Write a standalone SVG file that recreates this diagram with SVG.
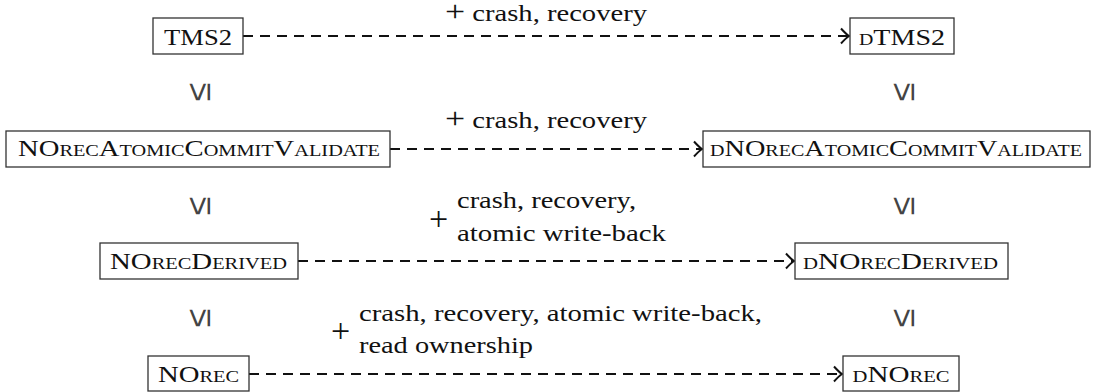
<svg xmlns="http://www.w3.org/2000/svg" width="1096" height="392" viewBox="0 0 1096 392">
<defs>
<style>
.box{fill:#fff;stroke:#333;stroke-width:1.3}
.nt{font-family:"Liberation Serif",serif;font-size:24px;fill:#111;font-variant:small-caps;text-anchor:middle}
.lb{font-family:"Liberation Serif",serif;font-size:24px;fill:#111}
.pl{font-family:"Liberation Serif",serif;font-size:34px;fill:#111}
.cn{fill:none;stroke:#111;stroke-width:2;stroke-dasharray:10 7}
.le{font-family:"Liberation Sans",sans-serif;font-size:34px;fill:#444;text-anchor:middle}
</style>
<marker id="arr" markerWidth="14" markerHeight="20" refX="11" refY="10" orient="auto" markerUnits="userSpaceOnUse">
<path d="M3,2.5 Q8,8 11,10 Q8,12 3,17.5" fill="none" stroke="#111" stroke-width="2"/>
</marker>
</defs>
<rect width="1096" height="392" fill="#fff"/>
<g id="connectors">
<line class="cn" x1="243" y1="36" x2="849" y2="36" marker-end="url(#arr)"/>
<line class="cn" x1="390" y1="149" x2="702" y2="149" marker-end="url(#arr)"/>
<line class="cn" x1="298" y1="261" x2="794" y2="261" marker-end="url(#arr)"/>
<line class="cn" x1="249" y1="374" x2="842" y2="374" marker-end="url(#arr)"/>
</g>
<g id="labels">
<text class="lb" x="445" y="21" textLength="202" lengthAdjust="spacingAndGlyphs"><tspan font-size="30">+</tspan> crash, recovery</text>
<text class="lb" x="445" y="128" textLength="202" lengthAdjust="spacingAndGlyphs"><tspan font-size="30">+</tspan> crash, recovery</text>
<text class="pl" x="429" y="230">+</text>
<text class="lb" x="457" y="208" textLength="179" lengthAdjust="spacingAndGlyphs">crash, recovery,</text>
<text class="lb" x="457" y="241" textLength="209" lengthAdjust="spacingAndGlyphs">atomic write-back</text>
<text class="pl" x="331" y="342">+</text>
<text class="lb" x="359" y="321" textLength="403" lengthAdjust="spacingAndGlyphs">crash, recovery, atomic write-back,</text>
<text class="lb" x="359" y="353" textLength="174" lengthAdjust="spacingAndGlyphs">read ownership</text>
</g>
<g id="refinements">
<text class="le" transform="translate(199,92) rotate(-90)" dy="11">≤</text>
<text class="le" transform="translate(903,92) rotate(-90)" dy="11">≤</text>
<text class="le" transform="translate(199,206) rotate(-90)" dy="11">≤</text>
<text class="le" transform="translate(903,206) rotate(-90)" dy="11">≤</text>
<text class="le" transform="translate(199,318) rotate(-90)" dy="11">≤</text>
<text class="le" transform="translate(903,318) rotate(-90)" dy="11">≤</text>
</g>
<g id="TMS2"><rect class="box" x="153" y="18" width="90" height="36"/><text class="nt" x="198" y="45" textLength="68" lengthAdjust="spacingAndGlyphs">TMS2</text></g>
<g id="dTMS2"><rect class="box" x="850" y="18" width="104" height="36"/><text class="nt" x="902" y="45" textLength="86" lengthAdjust="spacingAndGlyphs">dTMS2</text></g>
<g id="NOrecAtomicCommitValidate"><rect class="box" x="6" y="131" width="384" height="36"/><text class="nt" x="199" y="156" textLength="362" lengthAdjust="spacingAndGlyphs">NOrecAtomicCommitValidate</text></g>
<g id="dNOrecAtomicCommitValidate"><rect class="box" x="703" y="131" width="387" height="36"/><text class="nt" x="896" y="156" textLength="372" lengthAdjust="spacingAndGlyphs">dNOrecAtomicCommitValidate</text></g>
<g id="NOrecDerived"><rect class="box" x="100" y="243" width="198" height="36"/><text class="nt" x="198.5" y="269" textLength="177" lengthAdjust="spacingAndGlyphs">NOrecDerived</text></g>
<g id="dNOrecDerived"><rect class="box" x="795" y="243" width="213" height="36"/><text class="nt" x="900.5" y="269" textLength="195" lengthAdjust="spacingAndGlyphs">dNOrecDerived</text></g>
<g id="NOrec"><rect class="box" x="148" y="356" width="101" height="35"/><text class="nt" x="198.5" y="382" textLength="81" lengthAdjust="spacingAndGlyphs">NOrec</text></g>
<g id="dNOrec"><rect class="box" x="843" y="356" width="116" height="35"/><text class="nt" x="901" y="382" textLength="97" lengthAdjust="spacingAndGlyphs">dNOrec</text></g>
</svg>
